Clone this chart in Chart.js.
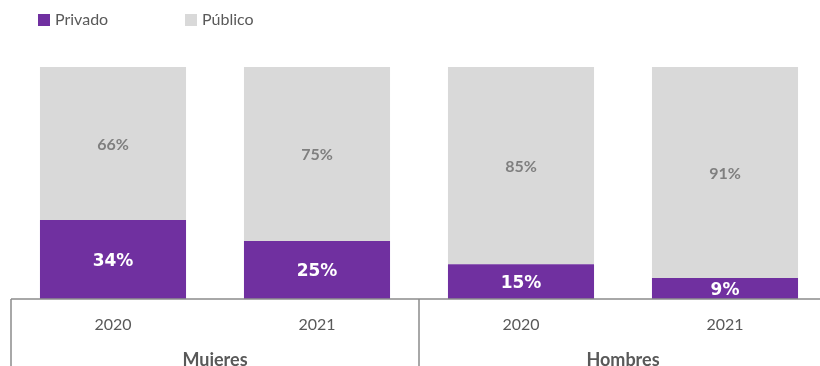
<!DOCTYPE html>
<html>
<head>
<meta charset="utf-8">
<script src="https://cdn.jsdelivr.net/npm/chart.js@4"></script>
<style>
  html, body { margin: 0; padding: 0; background: #fff; overflow: hidden; }
  #wrap { position: absolute; left: 0; top: 0; width: 828px; height: 366px; }
</style>
</head>
<body>
<div id="wrap"><canvas id="sectorChart"></canvas></div>
<script>
const years = ['2020', '2021', '2020', '2021'];
const groups = ['Mujeres', 'Hombres'];
const privado = [34, 25, 15, 9];
const publico = [66, 75, 85, 91];

const purple = '#7030A0';
const lightGray = '#D9D9D9';
const textGray = '#595959';

// labels inside the bar segments
const segmentLabels = {
  id: 'segmentLabels',
  afterDatasetsDraw(chart) {
    const ctx = chart.ctx;
    chart.data.datasets.forEach((ds, i) => {
      const meta = chart.getDatasetMeta(i);
      meta.data.forEach((bar, j) => {
        const y = (bar.y + bar.base) / 2;
        ctx.save();
        ctx.textAlign = 'center';
        ctx.textBaseline = 'middle';
        if (i === 0) {
          ctx.font = 'bold 17px "DejaVu Sans"';
          ctx.fillStyle = '#ffffff';
          ctx.fillText(ds.data[j] + '%', bar.x, y + 2);
        } else {
          ctx.font = 'bold 16px Lato';
          ctx.fillStyle = '#7F7F7F';
          ctx.fillText(ds.data[j] + '%', bar.x, y + 1);
        }
        ctx.restore();
      });
    });
  }
};

// axis line + group separators, plus the legend
const axisFrame = {
  id: 'axisFrame',
  afterDraw(chart) {
    const ctx = chart.ctx;
    const a = chart.chartArea;
    const x = chart.scales.x;
    const step = x.getPixelForValue(1) - x.getPixelForValue(0);
    const left = x.getPixelForValue(0) - step / 2;
    const mid = x.getPixelForValue(1) + step / 2;
    const right = x.getPixelForValue(3) + step / 2;
    ctx.save();
    ctx.strokeStyle = '#8C8C8C';
    ctx.lineWidth = 1.5;
    ctx.beginPath();
    ctx.moveTo(left, a.bottom);
    ctx.lineTo(right, a.bottom);
    [left, mid, right].forEach(px => {
      ctx.moveTo(px, a.bottom);
      ctx.lineTo(px, chart.height);
    });
    ctx.stroke();

    // legend
    ctx.font = '16px Lato';
    ctx.textBaseline = 'middle';
    const items = chart.data.datasets;
    const xs = [38, 185];
    items.forEach((ds, i) => {
      ctx.fillStyle = ds.backgroundColor;
      ctx.fillRect(xs[i], 14, 12, 12);
      ctx.fillStyle = textGray;
      ctx.fillText(ds.label, xs[i] + 17, 20);
    });
    ctx.restore();
  }
};

new Chart(document.getElementById('sectorChart'), {
  type: 'bar',
  data: {
    labels: years,
    datasets: [
      { label: 'Privado', data: privado, backgroundColor: purple, xAxisID: 'x' },
      { label: 'Público', data: publico, backgroundColor: lightGray, xAxisID: 'x' }
    ]
  },
  options: {
    responsive: true,
    maintainAspectRatio: false,
    animation: false,
    layout: { padding: { left: 11, right: 1, top: 67, bottom: 0 } },
    datasets: { bar: { categoryPercentage: 1, barPercentage: 0.716 } },
    plugins: {
      legend: { display: false },
      tooltip: { enabled: false }
    },
    scales: {
      y: {
        stacked: true,
        min: 0,
        max: 100,
        display: false
      },
      x: {
        stacked: true,
        position: 'bottom',
        grid: { display: false, drawTicks: false },
        border: { display: false },
        ticks: {
          color: textGray,
          font: { family: 'Lato', size: 16 },
          padding: 16,
          maxRotation: 0
        },
        afterFit(scale) { scale.height = 42; }
      },
      x2: {
        type: 'category',
        labels: groups,
        position: 'bottom',
        offset: true,
        grid: { display: false, drawTicks: false },
        border: { display: false },
        ticks: {
          color: textGray,
          font: { family: 'Lato', size: 18, weight: 'bold' },
          padding: 8,
          maxRotation: 0
        },
        afterFit(scale) { scale.height = 25; }
      }
    }
  },
  plugins: [segmentLabels, axisFrame]
});
</script>
</body>
</html>
